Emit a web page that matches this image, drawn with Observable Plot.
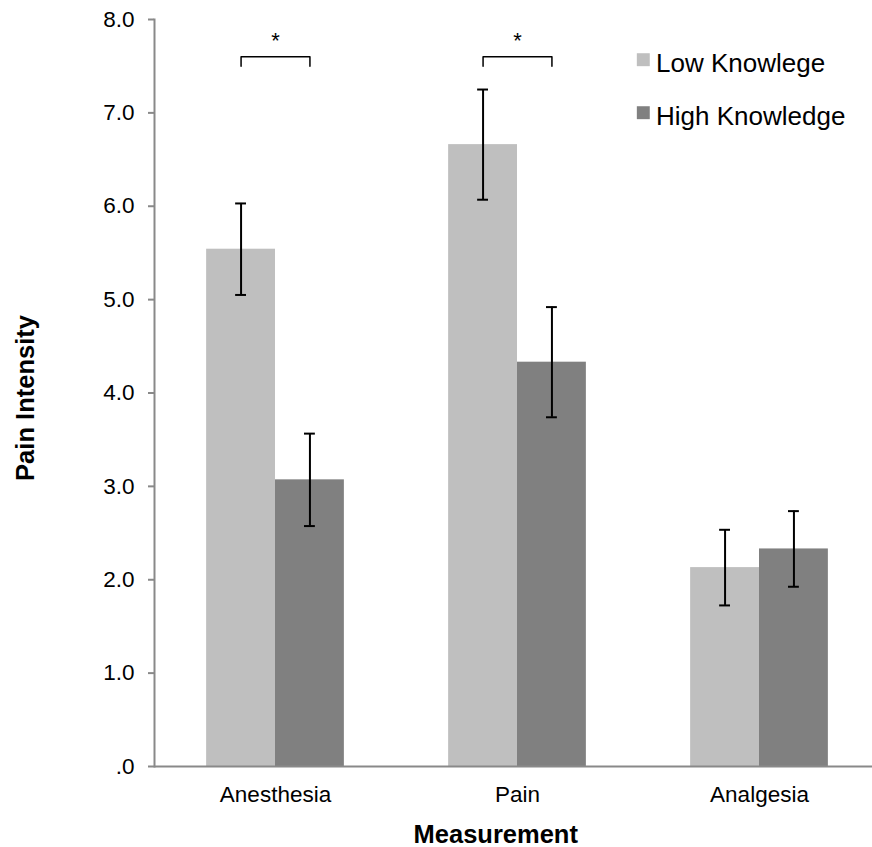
<!DOCTYPE html>
<html>
<head>
<meta charset="utf-8">
<script src="https://cdn.jsdelivr.net/npm/d3@7"></script>
<script src="https://cdn.jsdelivr.net/npm/@observablehq/plot@0.6"></script>
<style>
  html, body { margin: 0; padding: 0; background: #fff; overflow: hidden; }
  #chart svg { display: block; max-width: none; }
</style>
</head>
<body>
<div id="chart"></div>
<script>
// ---- data ----
const categories = ["Anesthesia", "Pain", "Analgesia"];
const series = ["Low Knowlege", "High Knowledge"];
const lowMeans = [5.54, 6.66, 2.13];
const highMeans = [3.07, 4.33, 2.33];
const lowErrors = [0.49, 0.59, 0.405];
const highErrors = [0.495, 0.59, 0.405];
const yTicks = [0, 1, 2, 3, 4, 5, 6, 7, 8];
const yTickLabels = [".0", "1.0", "2.0", "3.0", "4.0", "5.0", "6.0", "7.0", "8.0"];
const sigCategories = ["Anesthesia", "Pain"];
const sigMarks = ["*", "*"];
const sigLevel = 7.6;
const sigLegLevel = 7.5;
const starLevel = 7.77;
const xTitle = "Measurement";
const yTitle = "Pain Intensity";
const seriesColors = ["#bfbfbf", "#808080"];

// ---- derived tables ----
const rows = categories.flatMap((c, i) => [
  {category: c, series: series[0], mean: lowMeans[i], err: lowErrors[i]},
  {category: c, series: series[1], mean: highMeans[i], err: highErrors[i]}
]);
const bracket = sigCategories.flatMap((c) => [
  {category: c, series: series[0], v: sigLegLevel},
  {category: c, series: series[0], v: sigLevel},
  {category: c, series: series[1], v: sigLevel},
  {category: c, series: series[1], v: sigLegLevel}
]);

const axisGray = "#898989";
const font = "'Liberation Sans', Arial, sans-serif";

const chart = Plot.plot({
  width: 872,
  height: 847,
  marginTop: 19,
  marginBottom: 81,
  marginLeft: 153.5,
  marginRight: -9,
  style: {fontFamily: font, background: "#fff", color: "#000", overflow: "hidden"},
  fx: {domain: categories, padding: 0, label: null},
  x: {domain: series, paddingInner: 0, paddingOuter: 0.757, round: false, axis: null},
  y: {domain: [0, 8]},
  color: {domain: series, range: seriesColors},
  marks: [
    Plot.barY(rows, {fx: "category", x: "series", y: "mean", fill: "series"}),
    Plot.ruleY([0], {stroke: axisGray, strokeWidth: 2}),
    Plot.frame({anchor: "left", facetAnchor: "left", stroke: axisGray, strokeWidth: 2}),
    Plot.axisY({
      ticks: yTicks,
      tickFormat: (d) => yTickLabels[yTicks.indexOf(d)],
      tickSize: 6, tickPadding: 14, fontSize: 22.5,
      stroke: axisGray, strokeWidth: 2, label: null
    }),
    Plot.axisFx({anchor: "bottom", tickSize: 0, tickPadding: 20, fontSize: 22.5, label: null}),
    Plot.ruleX(rows, {fx: "category", x: "series", y1: (d) => d.mean - d.err, y2: (d) => d.mean + d.err, stroke: "#000", strokeWidth: 2}),
    Plot.tickY(rows, {fx: "category", x: "series", y: (d) => d.mean + d.err, insetLeft: 29, insetRight: 29, stroke: "#000", strokeWidth: 2}),
    Plot.tickY(rows, {fx: "category", x: "series", y: (d) => d.mean - d.err, insetLeft: 29, insetRight: 29, stroke: "#000", strokeWidth: 2}),
    Plot.line(bracket, {fx: "category", x: "series", y: "v", z: "category", stroke: "#000", strokeWidth: 1.5}),
    Plot.text(sigCategories, {fx: (d) => d, y: () => starLevel, text: (d, i) => sigMarks[i], fontSize: 22, fill: "#000"}),
    Plot.text([xTitle], {facet: "super", text: (d) => d, frameAnchor: "bottom", textAnchor: "middle", lineAnchor: "bottom", dx: -21.75, dy: 76, fontSize: 25.5, fontWeight: "bold", fill: "#000"}),
    Plot.text([yTitle], {facet: "super", text: (d) => d, frameAnchor: "left", textAnchor: "middle", rotate: -90, lineAnchor: "bottom", dx: -121, dy: 5, fontSize: 25.5, fontWeight: "bold", fill: "#000"}),
    ...series.map((s, i) => Plot.dot([s], {facet: "super", frameAnchor: "top-left", symbol: "square", r: 7.3, fill: (d) => d, stroke: null, dx: 488.8, dy: 40.2 + 53 * i})),
    ...series.map((s, i) => Plot.text([s], {facet: "super", text: (d) => d, frameAnchor: "top-left", textAnchor: "start", lineAnchor: "bottom", fontSize: 26, fill: "#000", dx: 501.5, dy: 52.5 + 53 * i}))
  ]
});
document.getElementById("chart").appendChild(chart);
</script>
</body>
</html>
